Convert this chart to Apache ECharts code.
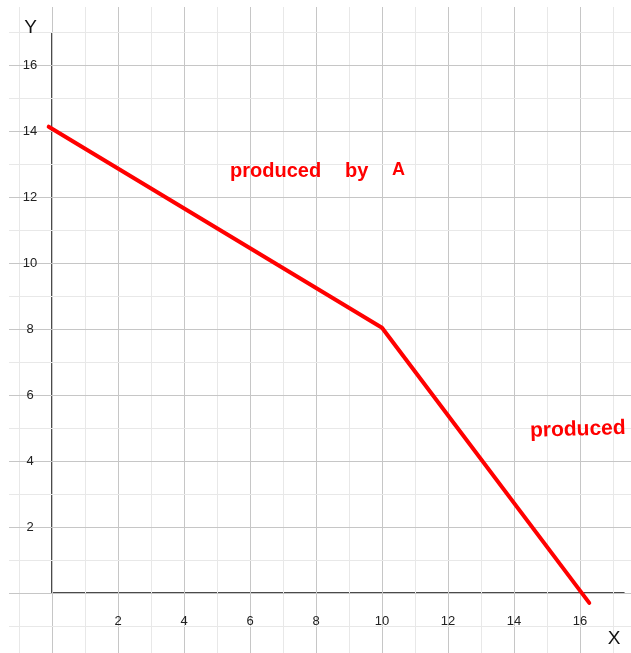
<!DOCTYPE html>
<html>
<head>
<meta charset="utf-8">
<script src="https://cdn.jsdelivr.net/npm/echarts@6/dist/echarts.min.js"></script>
<style>
html,body{margin:0;padding:0;background:#fff;}
#chart{width:631px;height:653px;}
</style>
</head>
<body>
<div id="chart"></div>
<script>
// Data
const curveX = [-0.1, 10, 16.28];
const curveY = [14.13, 8.04, -0.3];
const xTickLabels = [2, 4, 6, 8, 10, 12, 14, 16];
const yTickLabels = [2, 4, 6, 8, 10, 12, 14, 16];
const gridLinesX = [-1, 0, 1, 2, 3, 4, 5, 6, 7, 8, 9, 10, 11, 12, 13, 14, 15, 16, 17];
const gridLinesY = [-1, 0, 1, 2, 3, 4, 5, 6, 7, 8, 9, 10, 11, 12, 13, 14, 15, 16, 17];
const xAxisLineX = [0, 17.35];
const xAxisLineY = [0, 0];
const yAxisLineX = [0, 0];
const yAxisLineY = [0, 17.0];
const annotationTexts = ['produced', 'by', 'A', 'produced'];
const axisNames = ['X', 'Y'];

const chart = echarts.init(document.getElementById('chart'));
const zipPts = (xs, ys) => xs.map((x, i) => [x, ys[i]]);
const font = '"Liberation Sans", Helvetica, Arial, sans-serif';
const hand = '"Liberation Sans", sans-serif';
const DARK = '#c6c6c6', LIGHT = '#e8e8e8';

// plot area in pixels: x 9..631, y 7..653 ; 33 px per unit, origin at (52, 593)
const X_MIN = (9 - 52) / 33, X_MAX = (631 - 52) / 33;
const Y_MIN = -(653 - 593) / 33, Y_MAX = (593 - 7) / 33;

chart.setOption({
  animation: false,
  backgroundColor: '#ffffff',
  grid: { left: 9, right: 0, top: 7, bottom: 0, containLabel: false, outerBoundsMode: 'none' },
  xAxis: {
    type: 'value', min: X_MIN, max: X_MAX,
    offset: -60, z: 10,
    axisLine: { show: false },
    axisTick: { show: false },
    axisLabel: {
      customValues: xTickLabels,
      margin: 22, color: '#222', fontSize: 13, fontFamily: font,
      formatter: v => String(Math.round(v))
    },
    splitLine: { show: false }
  },
  yAxis: {
    type: 'value', min: Y_MIN, max: Y_MAX,
    offset: -43, z: 10,
    axisLine: { show: false },
    axisTick: { show: false },
    axisLabel: {
      customValues: yTickLabels,
      margin: 22, align: 'center', color: '#222', fontSize: 13, fontFamily: font,
      formatter: v => String(Math.round(v))
    },
    splitLine: { show: false }
  },
  series: [
    {
      type: 'line', data: [], z: 1, silent: true,
      markLine: {
        silent: true, symbol: 'none', animation: false,
        label: { show: false },
        data: gridLinesX.map(v => ({ xAxis: v, lineStyle: { type: 'solid', width: 1, color: v % 2 === 0 ? DARK : LIGHT } }))
          .concat(gridLinesY.map(v => ({ yAxis: v, lineStyle: { type: 'solid', width: 1, color: v % 2 === 0 ? DARK : LIGHT } })))
      }
    },
    {
      type: 'line', data: zipPts(xAxisLineX, xAxisLineY), symbol: 'none', silent: true,
      lineStyle: { color: '#4a4a4a', width: 2 }, z: 3
    },
    {
      type: 'line', data: zipPts(yAxisLineX, yAxisLineY), symbol: 'none', silent: true,
      lineStyle: { color: '#4a4a4a', width: 2 }, z: 3
    },
    {
      type: 'line', data: zipPts(curveX, curveY), symbol: 'none',
      lineStyle: { color: '#ff0000', width: 4, cap: 'round', join: 'round' }, z: 5
    }
  ],
  graphic: [
    { type: 'text', x: 30.5, y: 28, z: 101, style: { text: axisNames[1], font: '19px ' + font, fill: '#111', align: 'center', verticalAlign: 'middle' } },
    { type: 'text', x: 614, y: 639, z: 101, style: { text: axisNames[0], font: '19px ' + font, fill: '#111', align: 'center', verticalAlign: 'middle' } },
    { type: 'text', x: 230, y: 171, z: 101, style: { text: annotationTexts[0], font: 'bold 20px ' + hand, fill: '#ff0000', align: 'left', verticalAlign: 'middle' } },
    { type: 'text', x: 345, y: 171, z: 101, style: { text: annotationTexts[1], font: 'bold 20px ' + hand, fill: '#ff0000', align: 'left', verticalAlign: 'middle' } },
    { type: 'text', x: 392, y: 170, z: 101, style: { text: annotationTexts[2], font: 'bold 18px ' + hand, fill: '#ff0000', align: 'left', verticalAlign: 'middle' } },
    { type: 'text', x: 530, y: 431, z: 101, rotation: 0.03, style: { text: annotationTexts[3], font: 'bold 21px ' + hand, fill: '#ff0000', align: 'left', verticalAlign: 'middle' } }
  ]
});
</script>
</body>
</html>
